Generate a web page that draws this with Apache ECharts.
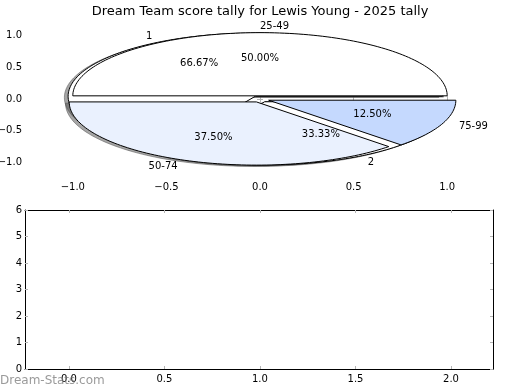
<!DOCTYPE html>
<html><head><meta charset="utf-8">
<script src="https://cdn.jsdelivr.net/npm/echarts@6/dist/echarts.min.js"></script>
<style>html,body{margin:0;padding:0;background:#fff}#c{width:520px;height:390px}</style>
</head><body><div id="c"></div>
<script>
const chartTitle = 'Dream Team score tally for Lewis Young - 2025 tally';
const outerLabels = ['25-49', '50-74', '75-99'];
const outerValues = [4, 3, 1];
const innerLabels = ['1', '2'];
const innerValues = [2, 1];
const pieTicks = [-1.0, -0.5, 0.0, 0.5, 1.0];
const lowerXTicks = [0.0, 0.5, 1.0, 1.5, 2.0];
const lowerYTicks = [0, 1, 2, 3, 4, 5, 6];
const outerExplode = [0.05, 0.05, 0.05];
const innerExplode = [0.05, 0.05];
const outerColors = ['#ffffff', '#eaf1fe', '#c5d9fe'];
const innerColors = ['#ffffff', '#ffffff'];

const FONT = 'DejaVu Sans';

function buildWedges(values, explode, labels, colors) {
  const total = values.reduce((a, b) => a + b, 0);
  let start = 0;
  return values.map((v, i) => {
    const t1 = start, t2 = start + 360 * v / total;
    start = t2;
    const mid = (t1 + t2) / 2 * Math.PI / 180;
    const cx = explode[i] * Math.cos(mid), cy = explode[i] * Math.sin(mid);
    return {t1, t2, mid, cx, cy, frac: v / total, label: labels[i], color: colors[i]};
  });
}
const innerW = buildWedges(innerValues, innerExplode, innerLabels, innerColors);
const outerW = buildWedges(outerValues, outerExplode, outerLabels, outerColors);
const allW = innerW.concat(outerW);

function wedgePoints(api, w, ox, oy) {
  const pts = [api.coord([w.cx + ox, w.cy + oy])];
  const n = Math.max(8, Math.ceil((w.t2 - w.t1) / 1.5));
  for (let k = 0; k <= n; k++) {
    const a = (w.t1 + (w.t2 - w.t1) * k / n) * Math.PI / 180;
    pts.push(api.coord([w.cx + ox + Math.cos(a), w.cy + oy + Math.sin(a)]));
  }
  return pts;
}

function shadowRender(params, api) {
  const w = allW[api.value(0)];
  return {type: 'polygon', shape: {points: wedgePoints(api, w, -0.02, -0.02)},
    style: {fill: 'rgba(77,77,77,0.5)', stroke: 'rgba(77,77,77,0.5)', lineWidth: 1}};
}
function makeWedgeRender(list) {
  return function (params, api) {
    const w = list[api.value(0)];
    return {type: 'polygon', shape: {points: wedgePoints(api, w, 0, 0)},
      style: {fill: w.color, stroke: '#000', lineWidth: 1}};
  };
}
function labelRender(params, api) {
  const w = allW[api.value(0)];
  const lx = w.cx + 1.1 * Math.cos(w.mid), ly = w.cy + 1.1 * Math.sin(w.mid);
  const px = w.cx + 0.6 * Math.cos(w.mid), py = w.cy + 0.6 * Math.sin(w.mid);
  const p1 = api.coord([lx, ly]), p2 = api.coord([px, py]);
  return {type: 'group', children: [
    {type: 'text', x: p1[0], y: p1[1], style: {text: w.label, fontSize: 10, fontFamily: FONT, fill: '#000',
      align: lx > 0 ? 'left' : 'right', verticalAlign: 'middle'}},
    {type: 'text', x: p2[0], y: p2[1], style: {text: (w.frac * 100).toFixed(2) + '%', fontSize: 10, fontFamily: FONT, fill: '#000',
      align: 'center', verticalAlign: 'middle'}}
  ]};
}

const fmt1 = v => (v < 0 ? '\u2212' : '') + Math.abs(v).toFixed(1);
const tickStyle = {show: true, inside: true, length: 3, lineStyle: {color: '#b4b4b4', width: 1}};
const lblStyle = {fontSize: 10, fontFamily: FONT, color: '#000'};

const idx = arr => arr.map((_, i) => [i]);

const option = {
  animation: false,
  backgroundColor: '#fff',
  title: {text: chartTitle, left: 'center', top: 0, textStyle: {fontSize: 13, fontWeight: 'normal', color: '#000', fontFamily: FONT}},
  grid: [
    {left: 26, top: 20, width: 468, height: 158, outerBoundsMode: 'none', containLabel: false},
    {left: 25, top: 210, width: 468, height: 159, outerBoundsMode: 'none', containLabel: false}
  ],
  xAxis: [
    {gridIndex: 0, type: 'value', position: 'bottom', min: -1.25, max: 1.25,
      axisLine: {show: false}, splitLine: {show: false},
      axisTick: Object.assign({customValues: pieTicks}, tickStyle),
      axisLabel: Object.assign({customValues: pieTicks, formatter: fmt1, margin: 4}, lblStyle)},
    {gridIndex: 0, type: 'value', position: 'top', min: -1.25, max: 1.25,
      axisLine: {show: false}, splitLine: {show: false},
      axisTick: Object.assign({customValues: pieTicks}, tickStyle),
      axisLabel: {show: false}},
    {gridIndex: 1, type: 'value', position: 'bottom', min: -0.23, max: 2.22,
      axisLine: {show: true, onZero: false, lineStyle: {color: '#000', width: 1}}, splitLine: {show: false},
      axisTick: Object.assign({customValues: lowerXTicks}, tickStyle),
      axisLabel: Object.assign({customValues: lowerXTicks, formatter: fmt1, margin: 5}, lblStyle)},
    {gridIndex: 1, type: 'value', position: 'top', min: -0.23, max: 2.22,
      axisLine: {show: true, onZero: false, lineStyle: {color: '#000', width: 1}}, splitLine: {show: false},
      axisTick: Object.assign({customValues: lowerXTicks}, tickStyle),
      axisLabel: {show: false}}
  ],
  yAxis: [
    {gridIndex: 0, type: 'value', position: 'left', min: -1.25, max: 1.25,
      axisLine: {show: false}, splitLine: {show: false},
      axisTick: Object.assign({customValues: pieTicks}, tickStyle),
      axisLabel: Object.assign({customValues: pieTicks, formatter: fmt1, margin: 4}, lblStyle)},
    {gridIndex: 0, type: 'value', position: 'right', min: -1.25, max: 1.25,
      axisLine: {show: false}, splitLine: {show: false},
      axisTick: Object.assign({customValues: pieTicks}, tickStyle),
      axisLabel: {show: false}},
    {gridIndex: 1, type: 'value', position: 'left', min: 0, max: 6,
      axisLine: {show: true, onZero: false, lineStyle: {color: '#000', width: 1}}, splitLine: {show: false},
      axisTick: Object.assign({customValues: lowerYTicks}, tickStyle),
      axisLabel: Object.assign({customValues: lowerYTicks, margin: 3}, lblStyle)},
    {gridIndex: 1, type: 'value', position: 'right', min: 0, max: 6,
      axisLine: {show: true, onZero: false, lineStyle: {color: '#000', width: 1}}, splitLine: {show: false},
      axisTick: Object.assign({customValues: lowerYTicks}, tickStyle),
      axisLabel: {show: false}}
  ],
  graphic: [
    {type: 'text', left: 0, top: 375, z: 100, style: {text: 'Dream-Stats.com', fontSize: 12, fontFamily: FONT, fill: 'rgba(120,120,120,0.75)'}}
  ],
  series: [
    {type: 'custom', xAxisIndex: 0, yAxisIndex: 0, z: 2, silent: true, clip: false,
      renderItem: shadowRender, data: idx(allW)},
    {type: 'custom', xAxisIndex: 0, yAxisIndex: 0, z: 3, silent: true, clip: false,
      renderItem: makeWedgeRender(innerW), data: idx(innerW)},
    {type: 'custom', xAxisIndex: 0, yAxisIndex: 0, z: 4, silent: true, clip: false,
      renderItem: makeWedgeRender(outerW), data: idx(outerW)},
    {type: 'custom', xAxisIndex: 0, yAxisIndex: 0, z: 5, silent: true, clip: false,
      renderItem: labelRender, data: idx(allW)}
  ]
};
const chart = echarts.init(document.getElementById('c'), null, {renderer: 'canvas'});
chart.setOption(option);
</script>
</body></html>
